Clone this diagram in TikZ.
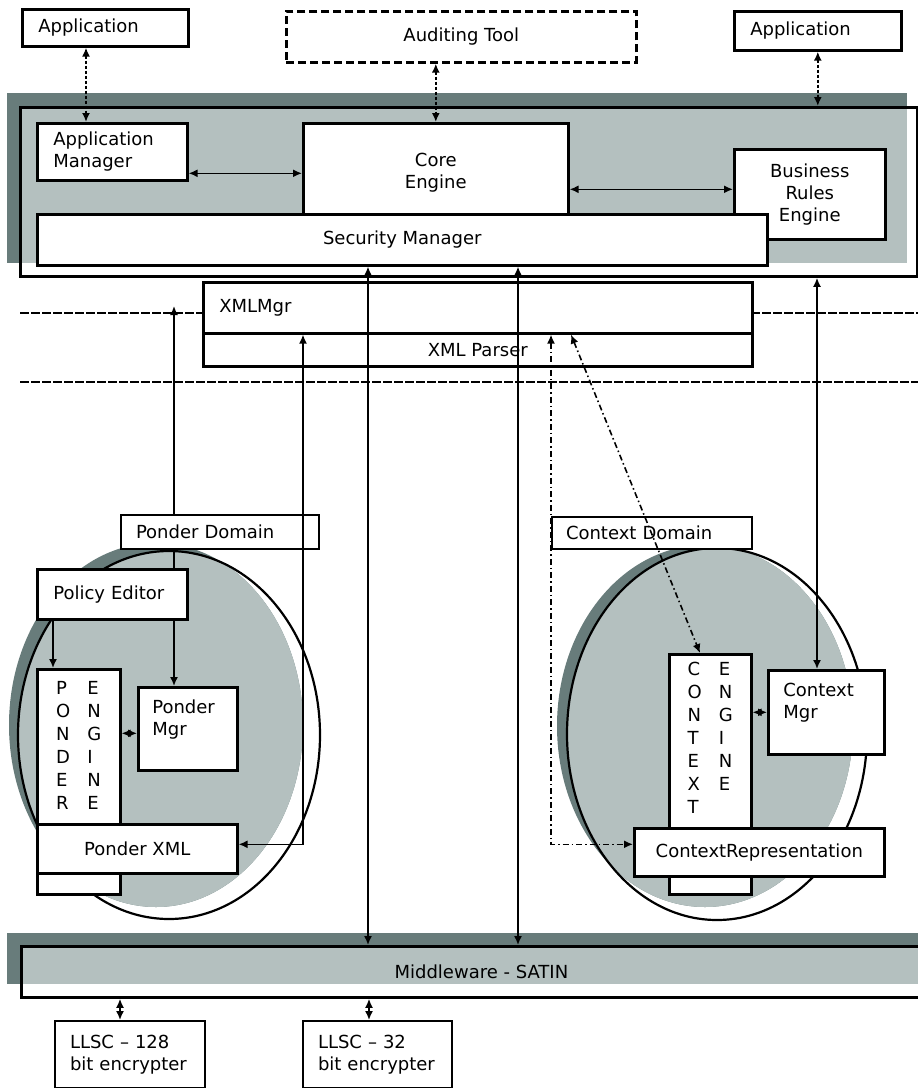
\documentclass[tikz,border=0pt]{standalone}
\usepackage{fontspec}
\setmainfont{DejaVu Sans}
\usetikzlibrary{arrows.meta}
\pgfdeclarelayer{back}
\pgfdeclarelayer{wires}
\pgfsetlayers{back,wires,main}
\definecolor{slate}{RGB}{104,124,123}
\definecolor{panel}{RGB}{180,192,191}
\renewcommand{\arraystretch}{1.04}

\begin{document}
\begin{tikzpicture}[x=1pt,y=-1pt,
  font=\fontsize{18}{22}\selectfont,
  >={Latex[length=9pt,width=8pt]},
  box/.style={draw,line width=2.6pt,fill=white,anchor=north west,inner sep=0pt},
  lbox/.style={box,align=left,inner xsep=16pt},
  link/.style={<->,line width=1.6pt},
  dotlink/.style={<->,line width=2.4pt,dash pattern=on 3pt off 2pt},
  ctxlink/.style={<->,line width=1.6pt,dash pattern=on 6pt off 3pt on 1.5pt off 3pt},
  sepline/.style={line width=2.8pt,dash pattern=on 9pt off 2pt}]
\useasboundingbox (0,0) rectangle (918,1088);

\begin{pgfonlayer}{back}
\fill[slate] (7,93) rectangle (907,263);
\fill[panel] (19,106) rectangle (907,263);
\fill[slate] (7,933) rectangle (918,984);
\fill[panel] (20,945) rectangle (918,984);
\fill[slate] (156,725) ellipse [x radius=147pt,y radius=182pt];
\begin{scope}
\clip (156,725) ellipse [x radius=147pt,y radius=182pt];
\fill[panel] (169,735) ellipse [x radius=151pt,y radius=184pt];
\end{scope}
\draw[line width=2.2pt] (169,735) ellipse [x radius=151pt,y radius=184pt];
\fill[slate] (705,726) ellipse [x radius=148pt,y radius=181pt];
\begin{scope}
\clip (705,726) ellipse [x radius=148pt,y radius=181pt];
\fill[panel] (717,734) ellipse [x radius=150pt,y radius=186pt];
\end{scope}
\draw[line width=2.2pt] (717,734) ellipse [x radius=150pt,y radius=186pt];
\end{pgfonlayer}

\node[draw,line width=2.8pt,anchor=north west,inner sep=0pt,minimum width=897pt,minimum height=169pt] (platform) at (19,106) {};
\node[lbox,text width=134pt,minimum height=37pt] (app1) at (21,8) {Application};
\node[box,dash pattern=on 8pt off 4pt,minimum width=350pt,minimum height=51pt] (audit) at (285,10) {Auditing Tool};
\node[lbox,text width=135pt,minimum height=39pt] (app2) at (733,10) {Application};
\node[lbox,text width=118pt,minimum height=57pt] (appmgr) at (36,122) {Application\\Manager};
\node[box,align=center,minimum width=265pt,minimum height=91pt] (coreeng) at (302,122) {\mbox{}\\Core\\Engine};
\node[box,align=center,minimum width=151pt,minimum height=90pt] (bre) at (733,148) {Business\\Rules\\Engine};
\node[box,minimum width=730pt,minimum height=51pt] (secmgr) at (36,213) {Security Manager};

\node[lbox,text width=517pt,minimum height=51pt] (xmlmgr) at (202,281) {XMLMgr};
\node[box,minimum width=549pt,minimum height=33pt] (xmlparser) at (202,332) {XML Parser};
\draw[sepline] (20,313) -- (202,313);
\draw[sepline] (751,313) -- (918,313);
\draw[sepline] (20,382) -- (918,382);

\node[lbox,line width=2pt,inner xsep=15pt,text width=168pt,minimum height=34pt] (ponderdom) at (120,514) {Ponder Domain};
\node[lbox,text width=118pt,minimum height=50pt] (policyed) at (36,568) {Policy Editor};
\node[box,minimum width=83pt,minimum height=225pt] (pengine) at (36,668)
  {\begin{tabular}{@{}l@{\hspace{17pt}}l@{}}P&E\\O&N\\N&G\\D&I\\E&N\\R&E\\&\\&\\&\end{tabular}};
\node[lbox,inner xsep=14pt,text width=71pt,minimum height=83pt] (pondermgr) at (137,686) {Ponder\\Mgr\\\mbox{}};
\node[box,minimum width=200pt,minimum height=49pt] (ponderxml) at (36,823) {Ponder XML};

\node[lbox,line width=2pt,inner xsep=14pt,text width=172pt,minimum height=32pt] (ctxdom) at (551,516) {Context Domain};
\node[box,minimum width=82pt,minimum height=240pt] (ctxengine) at (668,653)
  {\begin{tabular}{@{}l@{\hspace{17pt}}l@{}}C&E\\O&N\\N&G\\T&I\\E&N\\X&E\\T&\\&\\&\\&\end{tabular}};
\node[lbox,inner xsep=15pt,text width=86pt,minimum height=84pt] (ctxmgr) at (767,669) {Context\\Mgr\\\mbox{}};
\node[box,minimum width=250pt,minimum height=48pt] (ctxrep) at (633,827) {ContextRepresentation};

\node[draw,line width=2.8pt,anchor=north west,inner sep=0pt,minimum width=920pt,minimum height=51pt] (satin) at (20,945) {Middleware - SATIN};
\node[lbox,line width=2pt,inner xsep=15pt,text width=120pt,minimum height=67pt] (llsc128) at (54,1020) {LLSC -- 128\\bit encrypter};
\node[lbox,line width=2pt,inner xsep=15pt,text width=119pt,minimum height=67pt] (llsc32) at (302,1020) {LLSC -- 32\\bit encrypter};

\draw[dotlink] ([xshift=65pt]app1.south west) coordinate (a1) -- (a1 |- appmgr.north);
\draw[dotlink] (audit.south -| coreeng.north) -- (coreeng.north);
\draw[dotlink] (app2.south) -- (app2.south |- platform.north);
\draw[link] ([yshift=-21.5pt]appmgr.east) coordinate (a2) -- (a2 -| coreeng.west);
\draw[link] ([yshift=5pt]bre.west) coordinate (a3) -- (a3 -| coreeng.east);
\draw[link] ([xshift=332pt]secmgr.south west) coordinate (a4) -- (a4 |- satin.north);
\draw[link] ([xshift=482pt]secmgr.south west) coordinate (a5) -- (a5 |- satin.north);
\draw[link] ([xshift=50pt]ctxmgr.north west) coordinate (a6) -- (a6 |- platform.south);

\coordinate (xmlin) at (174,306);
\begin{pgfonlayer}{wires}
\draw[link] (xmlin) -- (xmlin |- pondermgr.north);
\end{pgfonlayer}
\draw[link] ([xshift=101pt]xmlmgr.south west) |- ([yshift=4.5pt]ponderxml.east);
\draw[ctxlink] ([xshift=349pt]xmlmgr.south west) |- ([yshift=8pt]ctxrep.west);
\draw[ctxlink] ([xshift=369pt]xmlmgr.south west) -- ([xshift=32pt]ctxengine.north west);
\draw[->,line width=1.6pt] ([xshift=17pt]policyed.south west) coordinate (a7) -- (a7 |- pengine.north);
\draw[link] ([yshift=-4.5pt]pondermgr.west) coordinate (a8) -- (a8 -| pengine.east);
\draw[link] (ctxmgr.west) -- (ctxmgr.west -| ctxengine.east);
\draw[link] ([xshift=66pt]llsc128.north west) coordinate (a9) -- (a9 |- satin.south);
\draw[link] ([xshift=67pt]llsc32.north west) coordinate (a10) -- (a10 |- satin.south);
\end{tikzpicture}
\end{document}
